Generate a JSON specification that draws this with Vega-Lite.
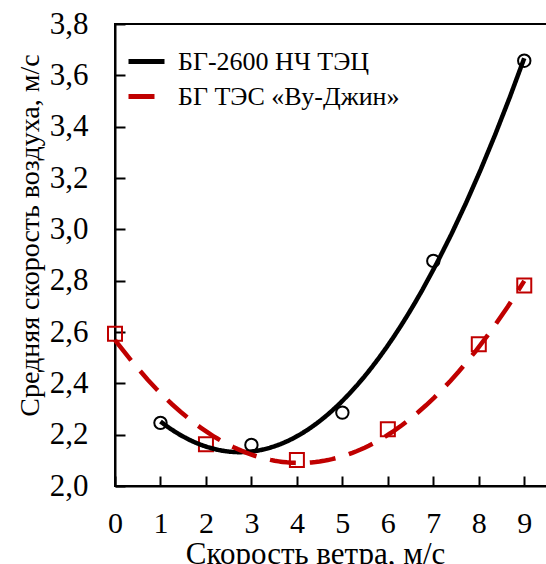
{
  "$schema": "https://vega.github.io/schema/vega-lite/v6.json",
  "autosize": "none",
  "width": 432,
  "height": 462,
  "padding": {"left": 115, "top": 24, "right": 0, "bottom": 78},
  "background": "white",
  "config": {
    "view": {"stroke": "black", "strokeWidth": 2},
    "font": "Liberation Serif",
    "axis": {
      "labelFont": "Liberation Serif",
      "titleFont": "Liberation Serif",
      "labelColor": "black",
      "titleColor": "black",
      "titleFontWeight": "normal",
      "domainColor": "black",
      "domainWidth": 2,
      "tickColor": "black",
      "tickWidth": 2,
      "grid": false
    },
    "legend": {"labelFont": "Liberation Serif"}
  },
  "data": {
    "values": [
      {"x": 1, "y": 2.246, "series": "БГ-2600 НЧ ТЭЦ"},
      {"x": 3, "y": 2.160, "series": "БГ-2600 НЧ ТЭЦ"},
      {"x": 5, "y": 2.286, "series": "БГ-2600 НЧ ТЭЦ"},
      {"x": 7, "y": 2.877, "series": "БГ-2600 НЧ ТЭЦ"},
      {"x": 9, "y": 3.657, "series": "БГ-2600 НЧ ТЭЦ"},
      {"x": 0, "y": 2.593, "series": "БГ ТЭС «Ву-Джин»"},
      {"x": 2, "y": 2.163, "series": "БГ ТЭС «Ву-Джин»"},
      {"x": 4, "y": 2.101, "series": "БГ ТЭС «Ву-Джин»"},
      {"x": 6, "y": 2.221, "series": "БГ ТЭС «Ву-Джин»"},
      {"x": 8, "y": 2.552, "series": "БГ ТЭС «Ву-Джин»"},
      {"x": 9, "y": 2.781, "series": "БГ ТЭС «Ву-Джин»"}
    ]
  },
  "encoding": {
    "x": {
      "field": "x", "type": "quantitative",
      "scale": {"domain": [0, 9.5], "nice": false},
      "axis": {
        "values": [0, 1, 2, 3, 4, 5, 6, 7, 8, 9],
        "tickSize": -10,
        "labelFontSize": 30,
        "labelPadding": 32,
        "labelFlush": false,
        "title": "Скорость ветра, м/с",
        "titleFontSize": 31,
        "titleX": 200,
        "titleY": 77,
        "titleBaseline": "alphabetic"
      }
    },
    "y": {
      "field": "y", "type": "quantitative",
      "scale": {"domain": [2.0, 3.8], "nice": false, "zero": false},
      "axis": {
        "values": [2.0, 2.2, 2.4, 2.6, 2.8, 3.0, 3.2, 3.4, 3.6, 3.8],
        "labelExpr": "replace(format(datum.value, '.1f'), '.', ',')",
        "tickSize": -10,
        "labelFontSize": 31,
        "labelPadding": 37,
        "title": "Средняя скорость воздуха, м/с",
        "titleFontSize": 28,
        "titleX": -85,
        "titleY": 211,
        "titleBaseline": "middle"
      }
    }
  },
  "layer": [
    {
      "transform": [{"filter": "datum.series === 'БГ-2600 НЧ ТЭЦ'"}],
      "mark": {"type": "point", "shape": "circle", "filled": false, "stroke": "black", "strokeWidth": 2, "size": 154, "opacity": 1}
    },
    {
      "transform": [{"filter": "datum.series !== 'БГ-2600 НЧ ТЭЦ'"}],
      "mark": {"type": "point", "shape": "square", "filled": false, "stroke": "#C00000", "strokeWidth": 2, "size": 196, "opacity": 1}
    },
    {
      "transform": [
        {"regression": "y", "on": "x", "groupby": ["series"], "method": "poly", "order": 2}
      ],
      "mark": {"type": "line", "strokeWidth": 4.5},
      "encoding": {
        "color": {
          "field": "series", "type": "nominal",
          "scale": {"domain": ["БГ-2600 НЧ ТЭЦ", "БГ ТЭС «Ву-Джин»"], "range": ["black", "#C00000"]},
          "legend": {
            "title": null,
            "orient": "none",
            "legendX": 11,
            "legendY": 17,
            "symbolType": "stroke",
            "symbolSize": 1296,
            "symbolStrokeWidth": 5,
            "labelFont": "Liberation Serif",
            "labelFontSize": 26,
            "labelColor": "black",
            "labelLimit": 400,
            "labelOffset": 11,
            "rowPadding": 1,
            "encode": {
              "symbols": {
                "update": {
                  "strokeDash": {"signal": "datum.value === 'БГ-2600 НЧ ТЭЦ' ? [1, 0] : [14, 8]"}
                }
              }
            }
          }
        },
        "strokeDash": {
          "field": "series", "type": "nominal",
          "scale": {"domain": ["БГ-2600 НЧ ТЭЦ", "БГ ТЭС «Ву-Джин»"], "range": [[1, 0], [26, 14]]},
          "legend": null
        }
      }
    }
  ]
}
